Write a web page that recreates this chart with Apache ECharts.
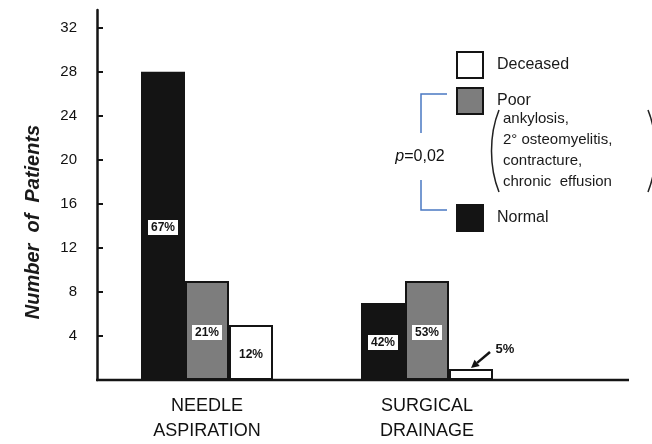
<!DOCTYPE html>
<html>
<head>
<meta charset="utf-8">
<script src="https://cdn.jsdelivr.net/npm/echarts@6/dist/echarts.min.js"></script>
<style>
  html, body { margin: 0; padding: 0; background: #fff; }
  #main { width: 652px; height: 444px; }
</style>
</head>
<body>
<div id="main"></div>
<script>
var categories = ['NEEDLE\nASPIRATION', 'SURGICAL\nDRAINAGE'];
var normal = [28, 7];
var poor = [9, 9];
var deceased = [5, 1];
var normalPct = ['67%', '42%'];
var poorPct = ['21%', '53%'];
var deceasedPct = ['12%', '5%'];
var yTicks = [4, 8, 12, 16, 20, 24, 28, 32];
var poorNotes = ['ankylosis,', '2° osteomyelitis,', 'contracture,', 'chronic  effusion'];

var chart = echarts.init(document.getElementById('main'));

var font = 'Liberation Sans';
var ink = '#141414';

// distance of each % box above the bar bottom (px), null = outside with arrow
var boxLift = {
  normal: [145, 30],
  poor: [40, 40],
  deceased: [18, null]
};

function withLabels(values, pcts, lift) {
  return values.map(function (v, i) {
    var lab;
    if (lift[i] === null) {
      lab = {
        show: true, position: 'top', offset: [34, -8],
        formatter: pcts[i], fontFamily: font, fontWeight: 'bold',
        fontSize: 13, color: ink
      };
    } else {
      lab = {
        show: true, position: 'insideBottom', distance: lift[i],
        formatter: pcts[i], backgroundColor: '#fff', padding: [2, 3, 1, 3],
        fontFamily: font, fontWeight: 'bold', fontSize: 12, color: ink
      };
    }
    return { value: v, label: lab };
  });
}

function barSeries(name, color, values, pcts, lift) {
  return {
    name: name,
    type: 'bar',
    barWidth: 44,
    barGap: '0%',
    itemStyle: { color: color, borderColor: ink, borderWidth: 2 },
    emphasis: { disabled: true },
    data: withLabels(values, pcts, lift)
  };
}

function oneLegend(name, top) {
  return {
    data: [name],
    left: 451,
    top: top,
    orient: 'vertical',
    icon: 'rect',
    itemWidth: 26,
    itemHeight: 26,
    selectedMode: false,
    textStyle: { fontFamily: font, fontSize: 16, color: '#1a1a1a', padding: [0, 0, 0, 9] }
  };
}

var blue = '#4a78c2';

var option = {
  animation: false,
  backgroundColor: '#fff',
  grid: { left: 97, top: 10, width: 440, bottom: 63 },
  legend: [
    oneLegend('Deceased', 46),
    oneLegend('Poor', 82),
    oneLegend('Normal', 199)
  ],
  xAxis: {
    type: 'category',
    data: categories,
    // the baseline is drawn below so it can run on past the last group
    axisLine: { show: false },
    axisTick: { show: false },
    axisLabel: {
      margin: 14, fontFamily: font, fontSize: 18, lineHeight: 25, color: '#111'
    }
  },
  yAxis: {
    type: 'value',
    min: 0,
    max: 33.6,
    splitLine: { show: false },
    axisLine: { show: true, lineStyle: { color: ink, width: 2.5 } },
    axisTick: { show: true, inside: true, length: 6, customValues: yTicks,
      lineStyle: { color: ink, width: 2 } },
    axisLabel: { customValues: yTicks, margin: 20, fontFamily: font,
      fontSize: 15, color: '#111' }
  },
  series: [
    barSeries('Normal', ink, normal, normalPct, boxLift.normal),
    barSeries('Poor', '#7d7d7d', poor, poorPct, boxLift.poor),
    barSeries('Deceased', '#ffffff', deceased, deceasedPct, boxLift.deceased)
  ]
};

chart.setOption(option);

// pixel positions taken from the chart's own scales
var base = chart.convertToPixel({ gridIndex: 0 }, [0, 0]);
var barTop = chart.convertToPixel({ gridIndex: 0 }, [1, deceased[1]]);
var tipX = barTop[0] + 44, tipY = barTop[1] - 1;
var tailX = tipX + 19, tailY = tipY - 16;
var ang = Math.atan2(tipY - tailY, tipX - tailX);
var hl = 8, hw = 4;
var bx = tipX - hl * Math.cos(ang), by = tipY - hl * Math.sin(ang);

chart.setOption({
  graphic: [
    // y axis title
    {
      type: 'text', x: 33, y: 222, rotation: Math.PI / 2,
      style: {
        text: 'Number  of  Patients', font: 'italic bold 20px "Liberation Sans"',
        fill: '#1a1a1a', align: 'center', verticalAlign: 'middle'
      }
    },
    // x baseline
    {
      type: 'line', z: 10, shape: { x1: 96, y1: base[1], x2: 629, y2: base[1] },
      style: { stroke: ink, lineWidth: 2.5 }
    },
    // notes under "Poor"
    {
      type: 'text', left: 503, top: 108,
      style: {
        text: poorNotes.join('\n'), font: '15px "Liberation Sans"',
        lineHeight: 21, fill: '#1a1a1a'
      }
    },
    {
      type: 'bezierCurve',
      shape: { x1: 499, y1: 110, x2: 499, y2: 192, cpx1: 489, cpy1: 135, cpx2: 489, cpy2: 167 },
      style: { stroke: '#222', lineWidth: 1.5, fill: null }
    },
    {
      type: 'bezierCurve',
      shape: { x1: 648, y1: 110, x2: 648, y2: 192, cpx1: 658, cpy1: 135, cpx2: 658, cpy2: 167 },
      style: { stroke: '#222', lineWidth: 1.5, fill: null }
    },
    // p-value bracket
    {
      type: 'polyline', shape: { points: [[447, 94], [421, 94], [421, 133]] },
      style: { stroke: blue, lineWidth: 1.5, fill: null }
    },
    {
      type: 'polyline', shape: { points: [[421, 180], [421, 210], [447, 210]] },
      style: { stroke: blue, lineWidth: 1.5, fill: null }
    },
    {
      type: 'text', x: 420, y: 157,
      style: {
        text: '{i|p}=0,02',
        rich: { i: { fontStyle: 'italic', fontSize: 16, fontFamily: font } },
        fontSize: 16, fontFamily: font, fill: '#111',
        align: 'center', verticalAlign: 'middle'
      }
    },
    // arrow to the small bar
    {
      type: 'line', shape: { x1: tailX, y1: tailY, x2: bx, y2: by },
      style: { stroke: ink, lineWidth: 2.5 }
    },
    {
      type: 'polygon',
      shape: { points: [
        [tipX, tipY],
        [bx + hw * Math.sin(ang), by - hw * Math.cos(ang)],
        [bx - hw * Math.sin(ang), by + hw * Math.cos(ang)]
      ] },
      style: { fill: ink }
    }
  ]
});
</script>
</body>
</html>
